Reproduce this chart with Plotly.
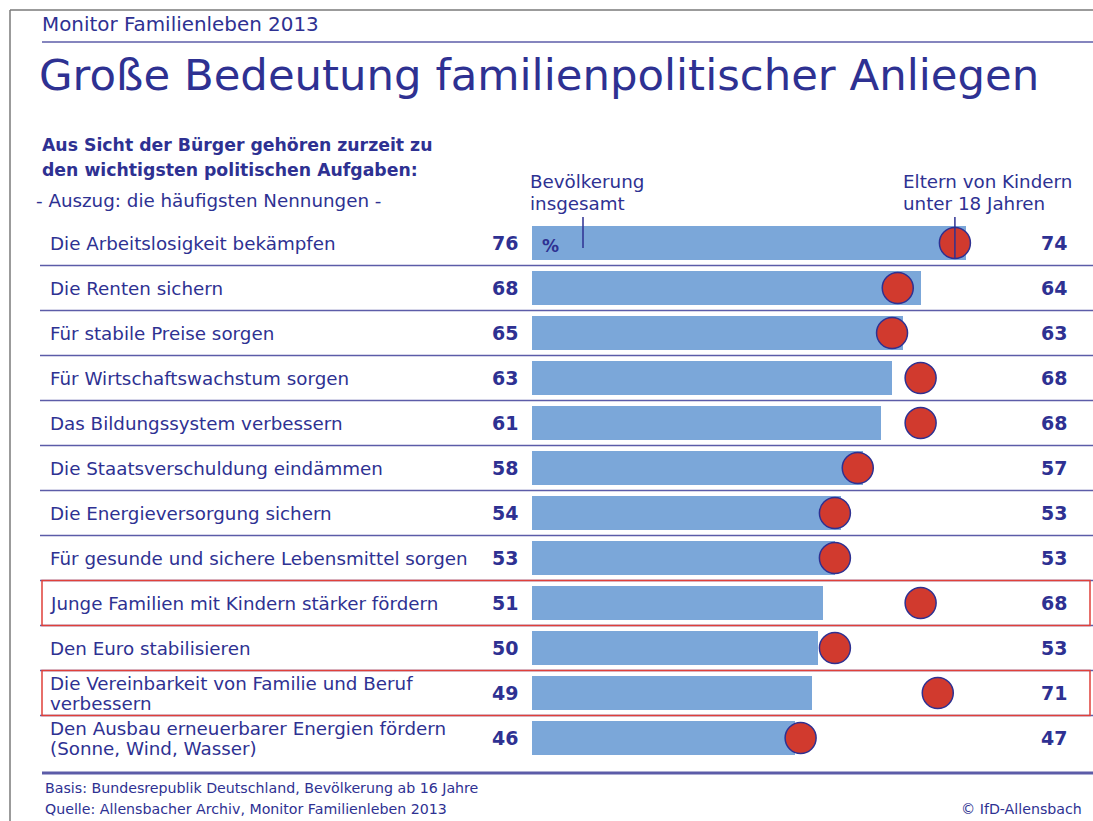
import plotly.graph_objects as go

W, H = 1093, 821

categories = [
    "Die Arbeitslosigkeit bekämpfen",
    "Die Renten sichern",
    "Für stabile Preise sorgen",
    "Für Wirtschaftswachstum sorgen",
    "Das Bildungssystem verbessern",
    "Die Staatsverschuldung eindämmen",
    "Die Energieversorgung sichern",
    "Für gesunde und sichere Lebensmittel sorgen",
    "Junge Familien mit Kindern stärker fördern",
    "Den Euro stabilisieren",
    "Die Vereinbarkeit von Familie und Beruf<br>verbessern",
    "Den Ausbau erneuerbarer Energien fördern<br>(Sonne, Wind, Wasser)",
]
bevoelkerung = [76, 68, 65, 63, 61, 58, 54, 53, 51, 50, 49, 46]
eltern = [74, 64, 63, 68, 68, 57, 53, 53, 68, 53, 71, 47]
highlighted = [8, 10]

BLUE_TXT = "#2e3192"
BAR = "#7ba7d9"
RED = "#d13a2e"
LINE = "#5c5ca8"
FONT = "DejaVu Sans"

# pixel geometry
X0_PX, PX_PER_UNIT = 532, 5.715
ROW0_PX, ROW_STEP = 243, 45
x_range = [-X0_PX / PX_PER_UNIT, (W - X0_PX) / PX_PER_UNIT]
y_range = [(H - ROW0_PX) / ROW_STEP, -ROW0_PX / ROW_STEP]

def px(x):
    return x / W

def py(y):
    return 1 - y / H

rows = list(range(len(categories)))

fig = go.Figure()
fig.add_trace(go.Bar(
    x=bevoelkerung, y=rows, orientation="h", width=0.74,
    marker=dict(color=BAR, line=dict(width=0)),
    hoverinfo="skip", showlegend=False,
))
fig.add_trace(go.Scatter(
    x=eltern, y=rows, mode="markers",
    marker=dict(size=31, color=RED, line=dict(color=BLUE_TXT, width=1.5)),
    hoverinfo="skip", showlegend=False,
))

ann = []
def text(x, y, s, size, bold=False, xanchor="left", yanchor="middle", font=FONT, xref="paper", yref="paper"):
    ann.append(dict(
        x=x, y=y, xref=xref, yref=yref, text=("<b>%s</b>" % s) if bold else s,
        showarrow=False, xanchor=xanchor, yanchor=yanchor, align="left",
        font=dict(family=font, size=size, color=BLUE_TXT),
    ))

# header texts
text(px(40), py(25), "Monitor Familienleben 2013", 19.9)
text(px(37), py(75), "Große Bedeutung familienpolitischer Anliegen", 43.4)
text(px(40), py(145), "Aus Sicht der Bürger gehören zurzeit zu", 17.3, bold=True)
text(px(40), py(170), "den wichtigsten politischen Aufgaben:", 17.3, bold=True)
text(px(34), py(201), "- Auszug: die häufigsten Nennungen -", 18.3)
text(px(528), py(182), "Bevölkerung", 18.3)
text(px(528), py(204), "insgesamt", 18.3)
text(px(901), py(182), "Eltern von Kindern", 18.3)
text(px(901), py(204), "unter 18 Jahren", 18.3)
text(px(540), py(246), "%", 17, bold=True)

# row labels and values
LINE_OFF = 10 / ROW_STEP
for i, cat in enumerate(categories):
    parts = cat.split("<br>")
    if len(parts) == 1:
        text(px(48), i, cat, 18.3, yref="y")
    else:
        text(px(48), i - LINE_OFF, parts[0], 18.3, yref="y")
        text(px(48), i + LINE_OFF, parts[1], 18.3, yref="y")
    text(px(520), i, str(bevoelkerung[i]), 19, bold=True, xanchor="right", yref="y")
    text(px(1054), i, str(eltern[i]), 19, bold=True, xanchor="center", yref="y")

# footer
text(px(43), py(788), "Basis: Bundesrepublik Deutschland, Bevölkerung ab 16 Jahre", 14.2)
text(px(43), py(809), "Quelle: Allensbacher Archiv, Monitor Familienleben 2013", 14.2)
text(px(1084), py(809), "© IfD-Allensbach", 14.2, xanchor="right")

shapes = []
# border
shapes.append(dict(type="line", xref="paper", yref="paper", x0=px(10), x1=1, y0=py(10), y1=py(10),
                   line=dict(color="#7a7a7a", width=1.5)))
shapes.append(dict(type="line", xref="paper", yref="paper", x0=px(10), x1=px(10), y0=py(10), y1=0,
                   line=dict(color="#7a7a7a", width=1.5)))
# header rule
shapes.append(dict(type="line", xref="paper", yref="paper", x0=px(42), x1=1, y0=py(42), y1=py(42),
                   line=dict(color=LINE, width=1.5)))
# row separators
for i in range(len(categories) - 1):
    shapes.append(dict(type="line", xref="paper", yref="y", x0=px(40), x1=1, y0=i + 0.5, y1=i + 0.5,
                       line=dict(color=LINE, width=1.5)))
# highlight boxes
for i in highlighted:
    shapes.append(dict(type="rect", xref="paper", yref="y", x0=px(42), x1=px(1090), y0=i - 0.5, y1=i + 0.5,
                       line=dict(color="#e0403a", width=1.5), fillcolor="rgba(0,0,0,0)"))
# footer rule
shapes.append(dict(type="line", xref="paper", yref="paper", x0=px(42), x1=1, y0=py(773), y1=py(773),
                   line=dict(color=LINE, width=3)))
# pointer lines
shapes.append(dict(type="line", xref="paper", yref="paper", x0=px(583), x1=px(583), y0=py(217), y1=py(248),
                   line=dict(color=BLUE_TXT, width=1.5), layer="above"))
shapes.append(dict(type="line", xref="x", yref="paper", x0=eltern[0], x1=eltern[0], y0=py(217), y1=py(258),
                   line=dict(color=BLUE_TXT, width=1.5), layer="above"))

fig.update_layout(
    width=W, height=H,
    margin=dict(l=0, r=0, t=0, b=0),
    paper_bgcolor="white", plot_bgcolor="white",
    xaxis=dict(range=x_range, visible=False, fixedrange=True),
    yaxis=dict(range=y_range, visible=False, fixedrange=True),
    annotations=ann, shapes=shapes,
    bargap=0,
)

fig.write_html("out.html", config={"displayModeBar": False},
               post_script="document.body.style.margin='0';document.body.style.overflow='hidden';")
